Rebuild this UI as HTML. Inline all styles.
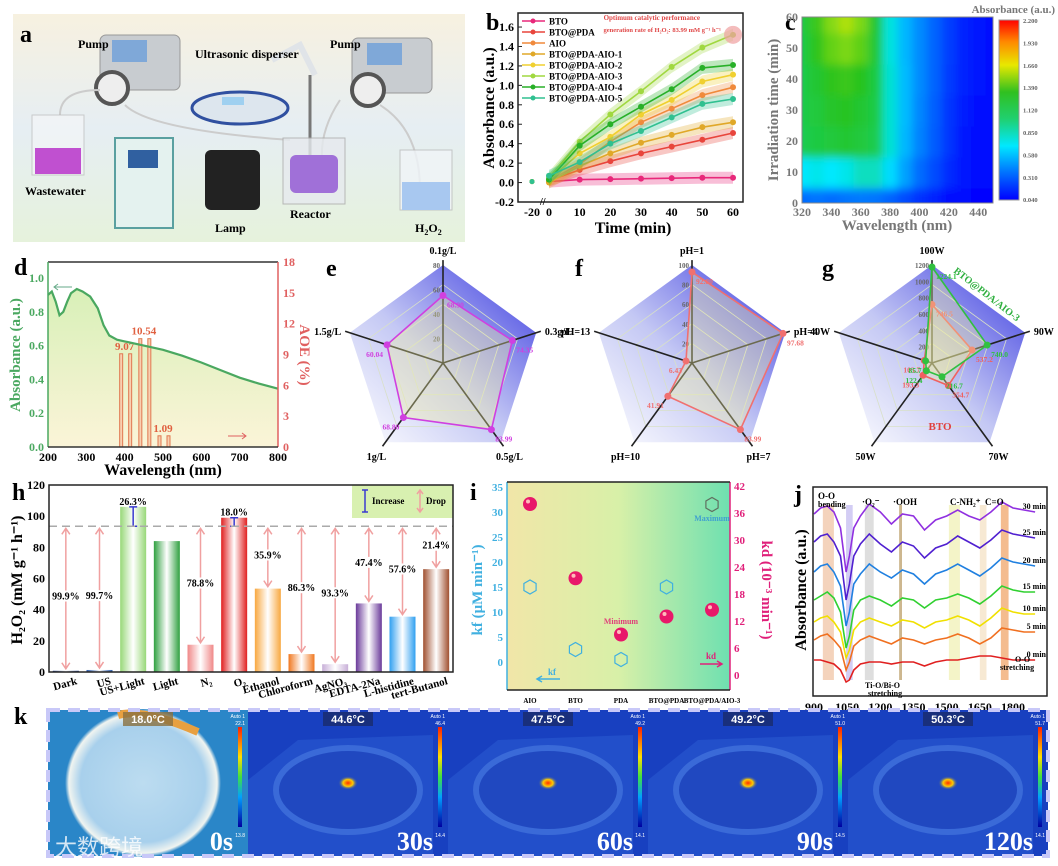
<!DOCTYPE html>
<html><head><meta charset="utf-8">
<style>
html,body{margin:0;padding:0;background:#fff;}
svg{display:block;font-family:"Liberation Serif",serif;font-weight:bold;}
</style></head>
<body>
<svg id="fig" width="1058" height="866" viewBox="0 0 1058 866" xmlns="http://www.w3.org/2000/svg">
<defs>
<linearGradient id="gA" x1="0" y1="0" x2="0" y2="1"><stop offset="0" stop-color="#f7f1e0"/><stop offset="0.5" stop-color="#e6eef3"/><stop offset="1" stop-color="#e6f2dc"/></linearGradient>
<linearGradient id="gD" x1="0" y1="0" x2="0" y2="1"><stop offset="0" stop-color="#d8f0b8"/><stop offset="1" stop-color="#fbf4d8"/></linearGradient>
<linearGradient id="gRad" x1="1" y1="0" x2="0" y2="1"><stop offset="0" stop-color="#3a3ae0"/><stop offset="0.55" stop-color="#c4c8f4"/><stop offset="1" stop-color="#ffffff"/></linearGradient>
<linearGradient id="gI" x1="0" y1="0" x2="1" y2="0"><stop offset="0" stop-color="#f1e6a8"/><stop offset="0.5" stop-color="#d8f0a8"/><stop offset="1" stop-color="#6ee0b0"/></linearGradient>
<linearGradient id="gCb" x1="0" y1="1" x2="0" y2="0"><stop offset="0" stop-color="#0000ff"/><stop offset="0.15" stop-color="#0070ff"/><stop offset="0.3" stop-color="#00e8ff"/><stop offset="0.45" stop-color="#20d070"/><stop offset="0.6" stop-color="#30c020"/><stop offset="0.75" stop-color="#e8e800"/><stop offset="0.88" stop-color="#ff8800"/><stop offset="1" stop-color="#ff0000"/></linearGradient>
<radialGradient id="gK0" cx="0.5" cy="0.5" r="0.5"><stop offset="0" stop-color="#bcdcf0"/><stop offset="0.8" stop-color="#a8d0ec"/><stop offset="0.95" stop-color="#f0f4f0"/><stop offset="1" stop-color="#2a86c8"/></radialGradient>
<radialGradient id="gKh" cx="0.5" cy="0.5" r="0.5"><stop offset="0" stop-color="#ff3000"/><stop offset="0.5" stop-color="#ffcc00"/><stop offset="1" stop-color="#1848c8" stop-opacity="0"/></radialGradient>
<linearGradient id="gKs" x1="0" y1="1" x2="0" y2="0"><stop offset="0" stop-color="#0000a0"/><stop offset="0.3" stop-color="#00a0ff"/><stop offset="0.5" stop-color="#40e040"/><stop offset="0.7" stop-color="#ffe000"/><stop offset="1" stop-color="#ff2000"/></linearGradient>
<filter id="blurC"><feGaussianBlur stdDeviation="4.5"/></filter>
<clipPath id="clipC"><rect x="802" y="17" width="191" height="186"/></clipPath>
</defs>

<g>
<rect x="13" y="14" width="452" height="228" fill="url(#gA)"/>
<text x="20" y="42" font-size="24">a</text>
<rect x="100" y="35" width="80" height="55" rx="6" fill="#c8ccd0" stroke="#999"/>
<rect x="112" y="40" width="35" height="22" fill="#7fa8d8"/>
<circle cx="112" cy="88" r="16" fill="#eee" stroke="#555" stroke-width="4"/>
<rect x="352" y="38" width="80" height="55" rx="6" fill="#c8ccd0" stroke="#999"/>
<rect x="367" y="43" width="35" height="22" fill="#7fa8d8"/>
<circle cx="368" cy="90" r="16" fill="#eee" stroke="#555" stroke-width="4"/>
<path d="M60 115 Q60 90 100 90 M125 105 Q150 130 290 140 M380 105 Q420 130 420 190 M340 100 Q320 130 322 160" fill="none" stroke="#ccc" stroke-width="2"/>
<rect x="32" y="115" width="52" height="60" fill="#f4f6f8" opacity="0.7" stroke="#bbb"/>
<rect x="35" y="148" width="46" height="26" fill="#c050d0"/>
<ellipse cx="240" cy="108" rx="48" ry="16" fill="#dde6ee" stroke="#3050a0" stroke-width="3"/>
<rect x="222" y="97" width="22" height="8" fill="#9fd0f0"/>
<path d="M272 60 L300 45 L315 75" fill="none" stroke="#e0e4e8" stroke-width="6"/>
<line x1="310" y1="75" x2="310" y2="160" stroke="#777" stroke-width="3"/>
<rect x="283" y="138" width="62" height="66" fill="#e6eaee" opacity="0.8" stroke="#aaa"/>
<rect x="290" y="155" width="48" height="38" rx="6" fill="#a070d8"/>
<rect x="115" y="138" width="58" height="90" fill="#e4f2ef" stroke="#5aa0a0" stroke-width="2"/>
<rect x="128" y="150" width="30" height="18" fill="#3060a0"/>
<rect x="205" y="150" width="55" height="60" rx="6" fill="#222"/>
<rect x="400" y="150" width="52" height="60" fill="#f0f4f8" opacity="0.8" stroke="#bbb"/>
<rect x="402" y="182" width="48" height="28" fill="#a8c8f0"/>
<text x="78" y="48" font-size="12">Pump</text>
<text x="195" y="58" font-size="12">Ultrasonic disperser</text>
<text x="330" y="48" font-size="12">Pump</text>
<text x="25" y="195" font-size="12">Wastewater</text>
<text x="290" y="218" font-size="12">Reactor</text>
<text x="215" y="232" font-size="12">Lamp</text>
<text x="415" y="232" font-size="12">H<tspan font-size="8" dy="3">2</tspan><tspan dy="-3">O</tspan><tspan font-size="8" dy="3">2</tspan></text>
</g>

<text x="486" y="30" font-size="24">b</text>
<text x="785" y="30" font-size="24">c</text>
<text x="14" y="275" font-size="24">d</text>
<text x="326" y="276" font-size="24">e</text>
<text x="575" y="276" font-size="24">f</text>
<text x="822" y="276" font-size="24">g</text>
<text x="12" y="500" font-size="24">h</text>
<text x="470" y="500" font-size="24">i</text>
<text x="794" y="502" font-size="24">j</text>
<text x="14" y="724" font-size="24">k</text>

<g id="charts"></g>
</svg>
<script>
const bTimes=[0,10,20,30,40,50,60];
const bNames=["BTO","BTO@PDA","AIO","BTO@PDA-AIO-1","BTO@PDA-AIO-2","BTO@PDA-AIO-3","BTO@PDA-AIO-4","BTO@PDA-AIO-5"];
const bBTO=[0.01,0.03,0.035,0.04,0.045,0.05,0.05];
const bPDA=[0.02,0.13,0.22,0.30,0.37,0.44,0.51];
const bAIO=[0.02,0.19,0.42,0.62,0.76,0.90,0.98];
const bA1=[0.0,0.17,0.30,0.41,0.49,0.57,0.62];
const bA2=[0.03,0.30,0.47,0.70,0.85,1.04,1.11];
const bA3=[0.05,0.42,0.70,0.94,1.19,1.39,1.52];
const bA4=[0.03,0.38,0.60,0.78,0.96,1.18,1.21];
const bA5=[0.07,0.21,0.40,0.53,0.67,0.81,0.86];
const bYTicks=[-0.2,0.0,0.2,0.4,0.6,0.8,1.0,1.2,1.4,1.6];
const bXTicks=[-20,0,10,20,30,40,50,60];
const cWaves=[320,330,340,350,360,370,380,390,400,410,420,430,440,450];
const cTimes=[0,10,20,30,40,50,60];
const cRow0=[0.30,0.32,0.30,0.32,0.33,0.32,0.28,0.22,0.16,0.12,0.08,0.06,0.05,0.05];
const cRow10=[0.58,0.62,0.58,0.62,0.70,0.70,0.55,0.42,0.30,0.22,0.14,0.09,0.07,0.06];
const cRow20=[0.95,1.00,1.02,1.05,1.02,0.95,0.66,0.47,0.35,0.26,0.17,0.10,0.08,0.07];
const cRow30=[0.98,1.02,1.08,1.10,1.06,0.98,0.66,0.48,0.36,0.27,0.17,0.11,0.08,0.07];
const cRow40=[0.98,1.06,1.14,1.18,1.12,1.00,0.66,0.48,0.37,0.28,0.18,0.12,0.09,0.08];
const cRow50=[1.00,1.14,1.32,1.40,1.30,1.04,0.64,0.47,0.37,0.28,0.19,0.12,0.09,0.08];
const cRow60=[1.02,1.18,1.42,1.52,1.40,1.06,0.64,0.47,0.37,0.28,0.19,0.12,0.09,0.08];
const cBarTicks=["2.200","1.930","1.660","1.390","1.120","0.850","0.580","0.310","0.040"];
const dWave=[200,210,220,230,240,250,260,275,290,310,330,345,360,380,400,450,500,550,600,650,700,750,800];
const dAbs=[0.90,0.92,0.86,0.78,0.80,0.86,0.91,0.935,0.92,0.89,0.82,0.72,0.66,0.635,0.625,0.60,0.575,0.54,0.50,0.455,0.41,0.375,0.345];
const dAoeWave=[400,450,500];
const dAoe=[9.07,10.54,1.09];
const dXTicks=[200,300,400,500,600,700,800];
const dYTicks=[0.0,0.2,0.4,0.6,0.8,1.0];
const dRTicks=[0,3,6,9,12,15,18];
const eAxes=["0.1g/L","0.3g/L","0.5g/L","1g/L","1.5g/L"];
const eVals=[68.90,74.35,83.99,68.80,60.04];
const fAxes=["pH=1","pH=4","pH=7","pH=10","pH=13"];
const fVals=[92.80,97.68,83.99,41.91,6.43];
const gAxes=["100W","90W","70W","50W","40W"];
const gBTO=[746.5,537.2,354.7,193.3,103.7];
const gBest=[1224.1,740.0,216.7,122.4,85.7];
const hCats=["Dark","US","US+Light","Light","N₂","O₂","Ethanol","Chloroform","AgNO₃","EDTA-2Na","L-histidine","tert-Butanol"];
const hVals=[0.8,1.3,106,84,17.5,99,53.5,11.5,5,44,35.5,66];
const hPct=["99.9%","99.7%","26.3%","","78.8%","18.0%","35.9%","86.3%","93.3%","47.4%","57.6%","21.4%"];
const hRef=93.5;
const hYTicks=[0,20,40,60,80,100,120];
const iCats=["AIO","BTO","PDA","BTO@PDA","BTO@PDA/AIO-3"];
const iKf=[15,2.5,0.5,15,31.5];
const iKd=[38,21.5,9,13,14.5];
const iLTicks=[0,5,10,15,20,25,30,35];
const iRTicks=[0,6,12,18,24,30,36,42];
const jWn=[900,930,960,990,1020,1045,1060,1080,1110,1150,1200,1250,1300,1350,1400,1450,1500,1550,1600,1650,1700,1750,1800,1850,1900];
const jLabels=["0 min","5 min","10 min","15 min","20 min","25 min","30 min"];
const j0=[1.8,1.8,1.7,1.6,1.3,0.7,0.8,1.3,1.6,1.7,1.7,1.6,1.7,1.7,1.5,1.7,1.8,1.8,1.9,2.0,2.0,1.9,1.8,1.8,1.8];
const j5=[2.8,3.0,3.1,2.8,2.4,1.3,1.7,2.5,2.8,3.0,2.8,2.6,2.9,2.8,2.6,2.8,2.9,3.1,2.9,2.6,2.9,3.4,3.3,3.2,3.2];
const j10=[3.7,3.9,4.0,3.7,3.2,1.9,2.3,3.3,3.7,3.9,3.7,3.5,3.8,3.7,3.4,3.7,3.8,4.0,3.8,3.5,3.9,4.4,4.2,4.1,4.1];
const j15=[4.8,5.0,5.2,4.9,4.2,2.4,3.0,4.3,4.8,5.0,4.8,4.5,4.9,4.8,4.4,4.8,4.9,5.1,4.9,4.6,5.0,5.5,5.3,5.2,5.2];
const j20=[6.2,6.5,6.6,6.2,5.5,3.5,4.2,5.6,6.1,6.6,6.2,5.9,6.3,6.1,5.6,6.1,6.3,6.6,6.3,6.0,6.4,6.9,6.7,6.6,6.5];
const j25=[7.7,8.0,8.1,7.7,7.0,4.8,5.6,7.0,7.6,8.1,7.6,7.2,7.7,7.5,6.9,7.4,7.6,8.0,7.7,7.4,7.8,8.3,8.1,8.0,7.9];
const j30=[9.1,9.4,9.5,9.2,8.4,6.2,7.0,8.4,9.0,9.6,9.2,8.6,9.1,9.0,8.3,8.8,9.0,9.3,9.0,8.8,9.2,9.7,9.4,9.3,9.2];
const jXTicks=[900,1050,1200,1350,1500,1650,1800];
const kTemps=["18.0°C","44.6°C","47.5°C","49.2°C","50.3°C"];
const kTimes=["0s","30s","60s","90s","120s"];
const kMax=["22.1","46.4","49.2","51.0","51.7"];
const kMin=["13.8","14.4","14.1","14.5","14.1"];

const NS="http://www.w3.org/2000/svg";
const root=document.getElementById("charts");
function mk(tag,attrs,parent){const e=document.createElementNS(NS,tag);for(const k in attrs)e.setAttribute(k,attrs[k]);(parent||root).appendChild(e);return e;}
function txt(x,y,s,size,attrs,parent){const t=mk("text",Object.assign({x:x,y:y,"font-size":size},attrs||{}),parent);t.textContent=s;return t;}
function pathOf(pts){return pts.map((p,i)=>(i?"L":"M")+p[0].toFixed(1)+" "+p[1].toFixed(1)).join(" ");}

(function(){
const g=mk("g",{});


const xb=v=>v<0?532+(v+20)*0.85:549+v*3.067;
const yb=v=>202-(v+0.2)*97.2;
mk("rect",{x:518,y:13,width:225,height:189,fill:"none",stroke:"#222","stroke-width":1.5},g);
bYTicks.forEach(v=>{const t=txt(514,yb(v)+4,v.toFixed(1),12,{"text-anchor":"end"},g);


mk("line",{x1:518,x2:522,y1:yb(v),y2:yb(v),stroke:"#222"},g);});
bXTicks.forEach(v=>{const t=txt(xb(v),216,String(v),12,{"text-anchor":"middle"},g);

});
txt(540,205,"//",10,{},g);
const xt=txt(633,233,"Time (min)",16,{"text-anchor":"middle"},g);


const yt=txt(0,0,"Absorbance (a.u.)",16,{"text-anchor":"middle",transform:"translate(494,108) rotate(-90)"},g);


const series=[bBTO,bPDA,bAIO,bA1,bA2,bA3,bA4,bA5];
const cols=["#e8287a","#e8453c","#f08a3c","#e0a828","#f0d030","#a0d840","#28b028","#30c090"];
series.forEach((s,i)=>{
 const pts=bTimes.map((t,j)=>[xb(t),yb(s[j])]);
 const band=mk("path",{d:pathOf(pts.map(p=>[p[0],p[1]-6]))+" "+pathOf(pts.slice().reverse().map(p=>[p[0],p[1]+6])).replace("M","L")+"Z",fill:cols[i],opacity:0.3},g);
 
 
 const ln=mk("path",{d:pathOf(pts),fill:"none",stroke:cols[i],"stroke-width":1.6},g);
 
 
 pts.forEach(p=>{const m=mk("circle",{cx:p[0],cy:p[1],r:3,fill:cols[i]},g);
 
 });
 mk("circle",{cx:xb(-20),cy:yb(0.01),r:2.5,fill:cols[i]},g);
 const ly=21+i*11;
 mk("line",{x1:522,x2:545,y1:ly,y2:ly,stroke:cols[i],"stroke-width":1.5},g);
 mk("circle",{cx:533,cy:ly,r:2.5,fill:cols[i]},g);
 const lt=txt(549,ly+3.5,bNames[i],9,{},g);
 
 
});
mk("ellipse",{cx:xb(60),cy:yb(1.52),rx:9,ry:9,fill:"#f0a0a0",opacity:0.7},g);
const a1=txt(700,20,"Optimum catalytic performance",7,{fill:"#e04848","text-anchor":"end"},g);


txt(721,32,"generation rate of H₂O₂: 83.99 mM g⁻¹ h⁻¹",6.5,{fill:"#e04848","text-anchor":"end"},g);
})();

(function(){
const g=mk("g",{});


const stops=[[0.04,[0,0,255]],[0.31,[0,112,255]],[0.58,[0,232,255]],[0.85,[20,210,110]],[1.12,[40,195,30]],[1.39,[120,215,20]],[1.66,[235,235,0]],[1.93,[255,136,0]],[2.2,[255,0,0]]];
function col(v){for(let i=1;i<stops.length;i++){if(v<=stops[i][0]){const a=stops[i-1],b=stops[i],f=(v-a[0])/(b[0]-a[0]);return "rgb("+a[1].map((c,k)=>Math.round(c+(b[1][k]-c)*f)).join(",")+")";}}return "rgb(255,0,0)";}
const x0=802,w=191,y0=17,h=186;
const xc=v=>x0+(v-320)/130*w, yc=v=>y0+h-(v/60)*h;
const rows=[cRow0,cRow10,cRow20,cRow30,cRow40,cRow50,cRow60];
const gg=mk("g",{"clip-path":"url(#clipC)"},g);
const inner=mk("g",{filter:"url(#blurC)"},gg);
mk("rect",{x:x0-20,y:y0-20,width:w+40,height:h+40,fill:col(0.08)},inner);
rows.forEach((r,ti)=>r.forEach((v,wi)=>{
 const cw=w/13, ch=h/6;
 const c=mk("rect",{x:xc(cWaves[wi])-cw/2,y:yc(cTimes[ti])-ch/2,width:cw+1,height:ch+1,fill:col(v)},inner);
 
 
}));
mk("rect",{x:x0,y:y0,width:w,height:h,fill:"none",stroke:"#888"},g);
[0,10,20,30,40,50,60].forEach(v=>{const t=txt(798,yc(v)+4,String(v),12,{"text-anchor":"end",fill:"#777"},g);

});
[320,340,360,380,400,420,440].forEach(v=>{const t=txt(xc(v),216,String(v),12,{"text-anchor":"middle",fill:"#777"},g);

});
const xt=txt(897,230,"Wavelength (nm)",15,{"text-anchor":"middle",fill:"#777"},g);


const yt=txt(0,0,"Irradiation time (min)",15,{"text-anchor":"middle",fill:"#777",transform:"translate(778,110) rotate(-90)"},g);


const cb=mk("rect",{x:999,y:20,width:20,height:180,fill:"url(#gCb)",stroke:"#999"},g);


cBarTicks.forEach((s,i)=>{const t=txt(1023,23+i*22.4,s,6.5,{fill:"#666"},g);

});
txt(1055,13,"Absorbance (a.u.)",11,{"text-anchor":"end",fill:"#777"},g);
})();

(function(){
const g=mk("g",{});


const xd=v=>48+(v-200)/600*230, yd=v=>447-v*169, yr=v=>447-v/18*185;
const pts=dWave.map((w,i)=>[xd(w),yd(dAbs[i])]);
mk("path",{d:pathOf(pts)+" L278 447 L48 447 Z",fill:"url(#gD)"},g);
dAoeWave.forEach((w,i)=>{[-5,4].forEach(o=>{const b=mk("rect",{x:xd(w)+o,y:yr(dAoe[i]),width:3,height:447-yr(dAoe[i]),fill:"#f8d0b0",stroke:"#e07850","stroke-width":1},g);

});
const t=txt(xd(w),yr(dAoe[i])-4,dAoe[i].toFixed(2),11,{"text-anchor":"middle",fill:"#e06040"},g);

});
const ln=mk("path",{d:pathOf(pts),fill:"none",stroke:"#4aa860","stroke-width":2.2},g);


mk("line",{x1:48,y1:262,x2:278,y2:262,stroke:"#333","stroke-width":1.5},g);
mk("line",{x1:48,y1:262,x2:48,y2:447,stroke:"#4aa860","stroke-width":1.5},g);
mk("line",{x1:278,y1:262,x2:278,y2:447,stroke:"#e06060","stroke-width":1.5},g);
mk("line",{x1:48,y1:447,x2:278,y2:447,stroke:"#333","stroke-width":1.5},g);
dYTicks.forEach(v=>{const t=txt(44,yd(v)+4,v.toFixed(1),12,{"text-anchor":"end",fill:"#4aa860"},g);

});
dRTicks.forEach(v=>{const t=txt(283,yr(v)+4,String(v),12,{fill:"#e06060"},g);

});
dXTicks.forEach(v=>{const t=txt(xd(v),461,String(v),12,{"text-anchor":"middle"},g);

});
const xt=txt(163,475,"Wavelength (nm)",16,{"text-anchor":"middle"},g);


const yt=txt(0,0,"Absorbance (a.u.)",15,{"text-anchor":"middle",fill:"#4aa860",transform:"translate(20,355) rotate(-90)"},g);


const rt=txt(0,0,"AOE (%)",15,{"text-anchor":"middle",fill:"#e06060",transform:"translate(300,355) rotate(90)"},g);


mk("path",{d:"M72 287 L54 287 M58 284 L54 287 L58 290",stroke:"#6a8",fill:"none"},g);
mk("path",{d:"M228 436 L246 436 M242 433 L246 436 L242 439",stroke:"#e06060",fill:"none"},g);
})();

function radar(cx,cy,R,max,axes,seriesList,cols,labelsFmt,gridLabels,name){
const g=mk("g",{});


const ang=i=>-Math.PI/2+i*2*Math.PI/5;
const P=(i,r)=>[cx+r*Math.cos(ang(i)),cy+r*Math.sin(ang(i))];
mk("path",{d:pathOf([0,1,2,3,4].map(i=>P(i,R)))+"Z",fill:"url(#gRad)"},g);
[0.2,0.4,0.6,0.8].forEach(f=>mk("path",{d:pathOf([0,1,2,3,4].map(i=>P(i,R*f)))+"Z",fill:"none",stroke:"#d8e0c8","stroke-width":0.8},g));
const lpos=[[0,-6,"middle"],[4,4,"start"],[6,14,"middle"],[-6,14,"middle"],[-4,4,"end"]];
axes.forEach((a,i)=>{const e=P(i,R*1.05);mk("line",{x1:cx,y1:cy,x2:e[0],y2:e[1],stroke:"#222","stroke-width":1.6},g);
const lp=P(i,R*1.05);const t=txt(lp[0]+lpos[i][0],lp[1]+lpos[i][1],a,10,{"text-anchor":lpos[i][2]},g);

});
gridLabels.forEach((s,k)=>{txt(cx-3,cy-R*(k+1)/gridLabels.length+3,s,7,{"text-anchor":"end",fill:"#666"},g);});
seriesList.forEach((vals,si)=>{
 const pts=vals.map((v,i)=>P(i,R*v/max));
 const poly=mk("path",{d:pathOf(pts)+"Z",fill:"#f4f0a0","fill-opacity":0.35,stroke:cols[si],"stroke-width":1.6},g);
 
 
 pts.forEach((p,i)=>{const c=mk("circle",{cx:p[0],cy:p[1],r:3.5,fill:cols[si]},g);
 
 
 const t=txt(p[0]+(p[0]<cx-2?-4:4),p[1]+12,labelsFmt(vals[i]),7.5,{"text-anchor":p[0]<cx-2?"end":"start",fill:cols[si]},g);
 
 });
});
}
radar(443,363,98,100,eAxes,[eVals],["#d040e0"],v=>v.toFixed(2),["20","40","60","80"],"panel-e-radar");
radar(692,363,98,100,fAxes,[fVals],["#f07070"],v=>v.toFixed(2),["20","40","60","80","100"],"panel-f-radar");
radar(932,363,98,1250,gAxes,[gBTO,gBest],["#f06060","#30c040"],v=>v.toFixed(1),["200","400","600","800","1000","1200"],"panel-g-radar");
txt(953,272,"BTO@PDA/AIO-3",10,{fill:"#30b040",transform:"rotate(38 953 272)"});
txt(940,430,"BTO",11,{fill:"#e04040","text-anchor":"middle"});

(function(){
const g=mk("g",{});


const x0=49,x1=453,y0=485,yb=672;
const yh=v=>yb-v*(yb-y0)/120;
const step=(x1-x0)/hCats.length, bw=26;
const cols=["#1a3a8a","#2858a8","#98d878","#30a040","#f08888","#e02020","#f8a840","#f07820","#c8b0d8","#6a3a9a","#30a0f0","#a05030"];
mk("rect",{x:352,y:485,width:101,height:33,fill:"#d8f0b0"},g);
hCats.forEach((c,i)=>{
 const cx=x0+step*(i+0.5);
 const gid="hb"+i;
 const lg=mk("linearGradient",{id:gid,x1:0,x2:1,y1:0,y2:0},g);
 mk("stop",{offset:0,"stop-color":cols[i]},lg);mk("stop",{offset:0.5,"stop-color":"#ffffff"},lg);mk("stop",{offset:1,"stop-color":cols[i]},lg);
 const b=mk("rect",{x:cx-bw/2,y:yh(hVals[i]),width:bw,height:yb-yh(hVals[i]),fill:"url(#"+gid+")"},g);
 
 
 const l=txt(0,0,c,11,{"text-anchor":"end",transform:"translate("+(cx+12)+",684) rotate(-15)"},g);
 
 
 if(hVals[i]<hRef&&hPct[i]){
  mk("path",{d:"M"+cx+" "+(yh(hRef)+2)+" L"+cx+" "+(yh(hVals[i])-2)+" M"+(cx-4)+" "+(yh(hRef)+8)+" L"+cx+" "+(yh(hRef)+2)+" L"+(cx+4)+" "+(yh(hRef)+8)+" M"+(cx-4)+" "+(yh(hVals[i])-8)+" L"+cx+" "+(yh(hVals[i])-2)+" L"+(cx+4)+" "+(yh(hVals[i])-8),stroke:"#f0a0a0","stroke-width":1.5,fill:"none"},g);
  mk("rect",{x:cx-16,y:(yh(hRef)+yh(hVals[i]))/2-8,width:32,height:11,fill:"#fff"},g);
 }
 if(hVals[i]>hRef){
  mk("path",{d:"M"+(cx-4)+" "+yh(hRef)+" L"+(cx+4)+" "+yh(hRef)+" M"+cx+" "+yh(hRef)+" L"+cx+" "+yh(hVals[i])+" M"+(cx-4)+" "+yh(hVals[i])+" L"+(cx+4)+" "+yh(hVals[i]),stroke:"#3a3ad0","stroke-width":1.5},g);
 }
 if(hPct[i]){const py=hVals[i]>hRef?yh(hVals[i])-2:(yh(hRef)+yh(hVals[i]))/2+1;
 const t=txt(cx,py,hPct[i],10,{"text-anchor":"middle"},g);
 
 }
});
const rl=mk("line",{x1:x0,x2:x1,y1:yh(hRef),y2:yh(hRef),stroke:"#aaa","stroke-dasharray":"8,5","stroke-width":1.5},g);


mk("rect",{x:x0,y:y0,width:x1-x0,height:yb-y0,fill:"none",stroke:"#222","stroke-width":1.5},g);
hYTicks.forEach(v=>{const t=txt(45,yh(v)+4,String(v),12,{"text-anchor":"end"},g);

});
const yt=txt(0,0,"H₂O₂ (mM g⁻¹ h⁻¹)",16,{"text-anchor":"middle",transform:"translate(22,580) rotate(-90)"},g);


mk("path",{d:"M362 490 L368 490 M365 490 L365 512 M362 512 L368 512",stroke:"#3a3ad0","stroke-width":1.5},g);
const lg1=txt(372,504,"Increase",9,{},g);


mk("path",{d:"M420 490 L420 512 M417 494 L420 490 L423 494 M417 508 L420 512 L423 508",stroke:"#f0a0a0","stroke-width":1.5,fill:"none"},g);
const lg2=txt(426,504,"Drop",9,{},g);


})();

(function(){
const g=mk("g",{});


const x0=507,x1=730,y0=482,y1=690;
const yl=v=>662-v*5, yr=v=>675-v*4.5;
const xi=i=>530+i*45.5;
mk("rect",{x:x0,y:y0,width:x1-x0,height:y1-y0,fill:"url(#gI)"},g);
mk("line",{x1:x0,y1:y0,x2:x0,y2:y1,stroke:"#40b0e0","stroke-width":1.5},g);
mk("line",{x1:x1,y1:y0,x2:x1,y2:y1,stroke:"#e0207a","stroke-width":1.5},g);
mk("line",{x1:x0,y1:y0,x2:x1,y2:y0,stroke:"#222","stroke-width":1.5},g);
mk("line",{x1:x0,y1:y1,x2:x1,y2:y1,stroke:"#222","stroke-width":1.5},g);
iLTicks.forEach(v=>{const t=txt(503,yl(v)+4,String(v),11,{"text-anchor":"end",fill:"#40b0e0"},g);

});
iRTicks.forEach(v=>{const t=txt(734,yr(v)+4,String(v),11,{fill:"#e0207a"},g);

});
iCats.forEach((c,i)=>{const t=txt(xi(i),703,c,7,{"text-anchor":"middle"},g);


const hx=xi(i),hy=yl(iKf[i]),r=7;
const hex=mk("path",{d:pathOf([0,1,2,3,4,5].map(k=>[hx+r*Math.cos(Math.PI/6+k*Math.PI/3),hy+r*Math.sin(Math.PI/6+k*Math.PI/3)]))+"Z",fill:"none",stroke:i==4?"#607060":"#40b0e0","stroke-width":1.2},g);


const s=mk("circle",{cx:xi(i),cy:yr(iKd[i]),r:7,fill:"#e8186a"},g);


mk("circle",{cx:xi(i)-2,cy:yr(iKd[i])-2.5,r:2,fill:"#fbb"},g);
});
txt(712,521,"Maximum",8,{"text-anchor":"middle",fill:"#40a0d0"},g);
txt(621,624,"Minimum",8,{"text-anchor":"middle",fill:"#e0407a"},g);
mk("path",{d:"M700 664 L722 664 M717 661 L722 664 L717 667",stroke:"#e0207a",fill:"none","stroke-width":1.5},g);
mk("path",{d:"M560 679 L537 679 M542 676 L537 679 L542 682",stroke:"#40b0e0",fill:"none","stroke-width":1.5},g);
txt(711,659,"kd",9,{"text-anchor":"middle",fill:"#e0207a"},g);
txt(552,675,"kf",9,{"text-anchor":"middle",fill:"#40b0e0"},g);
const yt=txt(0,0,"kf (μM min⁻¹)",15,{"text-anchor":"middle",fill:"#40b0e0",transform:"translate(482,590) rotate(-90)"},g);


const rt=txt(0,0,"kd (10⁻³ min⁻¹)",15,{"text-anchor":"middle",fill:"#e0207a",transform:"translate(762,590) rotate(90)"},g);


})();

(function(){
const g=mk("g",{});


const x0=813,x1=1047,y0=487,y1=696;
const xj=v=>814+(v-900)*0.2211, yj=v=>696-v*20;
[[940,990,"#f0c0a0"],[1045,1075,"#c0b8f0"],[1130,1170,"#d0d0d0"],[1285,1298,"#b89860"],[1510,1560,"#f0f0b0"],[1650,1680,"#f4e0c0"],[1745,1780,"#f0a060"]].forEach(b=>{
 const r=mk("rect",{x:xj(b[0]),y:505,width:xj(b[1])-xj(b[0]),height:175,fill:b[2],opacity:0.7},g);
 
 });
const series=[j0,j5,j10,j15,j20,j25,j30];
const cols=["#e02020","#f07020","#f0e000","#30d030","#2080e0","#5020d0","#9030e0"];
series.forEach((s,i)=>{
 const ln=mk("path",{d:pathOf(jWn.map((w,k)=>[xj(w),yj(s[k])])),fill:"none",stroke:cols[i],"stroke-width":1.6},g);
 
 
 const t=txt(1046,yj(s[s.length-1])-3,jLabels[i],8,{"text-anchor":"end"},g);
 
 
});
mk("rect",{x:x0,y:y0,width:x1-x0,height:y1-y0,fill:"none",stroke:"#222","stroke-width":1.5},g);
jXTicks.forEach(v=>{const t=txt(xj(v),711,String(v),12,{"text-anchor":"middle"},g);

});
const xt=txt(935,728,"Wavenumber (cm⁻¹)",16,{"text-anchor":"middle"},g);


const yt=txt(0,0,"Absorbance (a.u.)",16,{"text-anchor":"middle",transform:"translate(806,590) rotate(-90)"},g);


txt(818,499,"O-O",9,{},g);txt(818,507,"bending",8,{},g);
txt(862,505,"·O₂⁻",9,{},g);txt(893,505,"·OOH",9,{},g);
txt(950,505,"C-NH₂⁺",9,{},g);txt(985,505,"C=O",9,{},g);
txt(865,688,"Ti-O/Bi-O",8,{},g);txt(868,696,"stretching",8,{},g);
txt(1015,662,"O-O",8,{},g);txt(1000,670,"stretching",8,{},g);
})();

(function(){
const g=mk("g",{});


const x0=48,w=200,y0=710,h=146;
kTemps.forEach((t,i)=>{
 const x=x0+i*w;
 const im=mk("rect",{x:x,y:y0,width:w,height:h,fill:i==0?"#2a86c8":"#1840c0"},g);
 
 
 if(i==0){mk("ellipse",{cx:x+95,cy:y0+73,rx:78,ry:74,fill:"url(#gK0)"},g);
  mk("path",{d:"M"+(x+70)+" "+(y0+5)+" Q"+(x+95)+" "+(y0-2)+" "+(x+150)+" "+(y0+22),stroke:"#e8a040","stroke-width":8,fill:"none"},g);}
 else{mk("path",{d:"M"+x+" "+(y0+70)+" L"+(x+50)+" "+(y0+30)+" L"+(x+185)+" "+(y0+25)+" L"+(x+185)+" "+(y0+h)+" L"+x+" "+(y0+h)+"Z",fill:"#2a5ad0",opacity:0.6},g);
  mk("ellipse",{cx:x+100,cy:y0+80,rx:72,ry:42,fill:"#2048c0",stroke:"#3a6ad8","stroke-width":6},g);
  mk("ellipse",{cx:x+100,cy:y0+73,rx:10,ry:7,fill:"url(#gKh)"},g);}
 mk("rect",{x:x+w-10,y:y0+17,width:4,height:100,fill:"url(#gKs)"},g);
 mk("rect",{x:x+w/2-25,y:y0+2,width:50,height:14,fill:i==0?"#8a7040":"#1a2a6a",opacity:0.8},g);
 const tl=txt(x+w/2,y0+13,t,11,{"text-anchor":"middle",fill:"#fff","font-family":"Liberation Sans, sans-serif"},g);
 
 
 txt(x+w-3,y0+8,"Auto 1",5,{"text-anchor":"end",fill:"#fff","font-family":"Liberation Sans, sans-serif","font-weight":"normal"},g);
 txt(x+w-3,y0+15,kMax[i],5,{"text-anchor":"end",fill:"#fff","font-family":"Liberation Sans, sans-serif","font-weight":"normal"},g);
 txt(x+w-3,y0+127,kMin[i],5,{"text-anchor":"end",fill:"#fff","font-family":"Liberation Sans, sans-serif","font-weight":"normal"},g);
 const tm=txt(x+w-15,y0+140,kTimes[i],26,{"text-anchor":"end",fill:"#fff"},g);
 
 
});
mk("rect",{x:x0,y:y0,width:w*5,height:h,fill:"none",stroke:"#c8c8f8","stroke-width":4,"stroke-dasharray":"12,8"},g);
const wm=txt(55,855,"大数跨境",22,{fill:"#fff",opacity:0.8,"font-family":"Liberation Sans, Noto Sans CJK SC, sans-serif","font-weight":"normal"},g);


})();
</script>
</body></html>
